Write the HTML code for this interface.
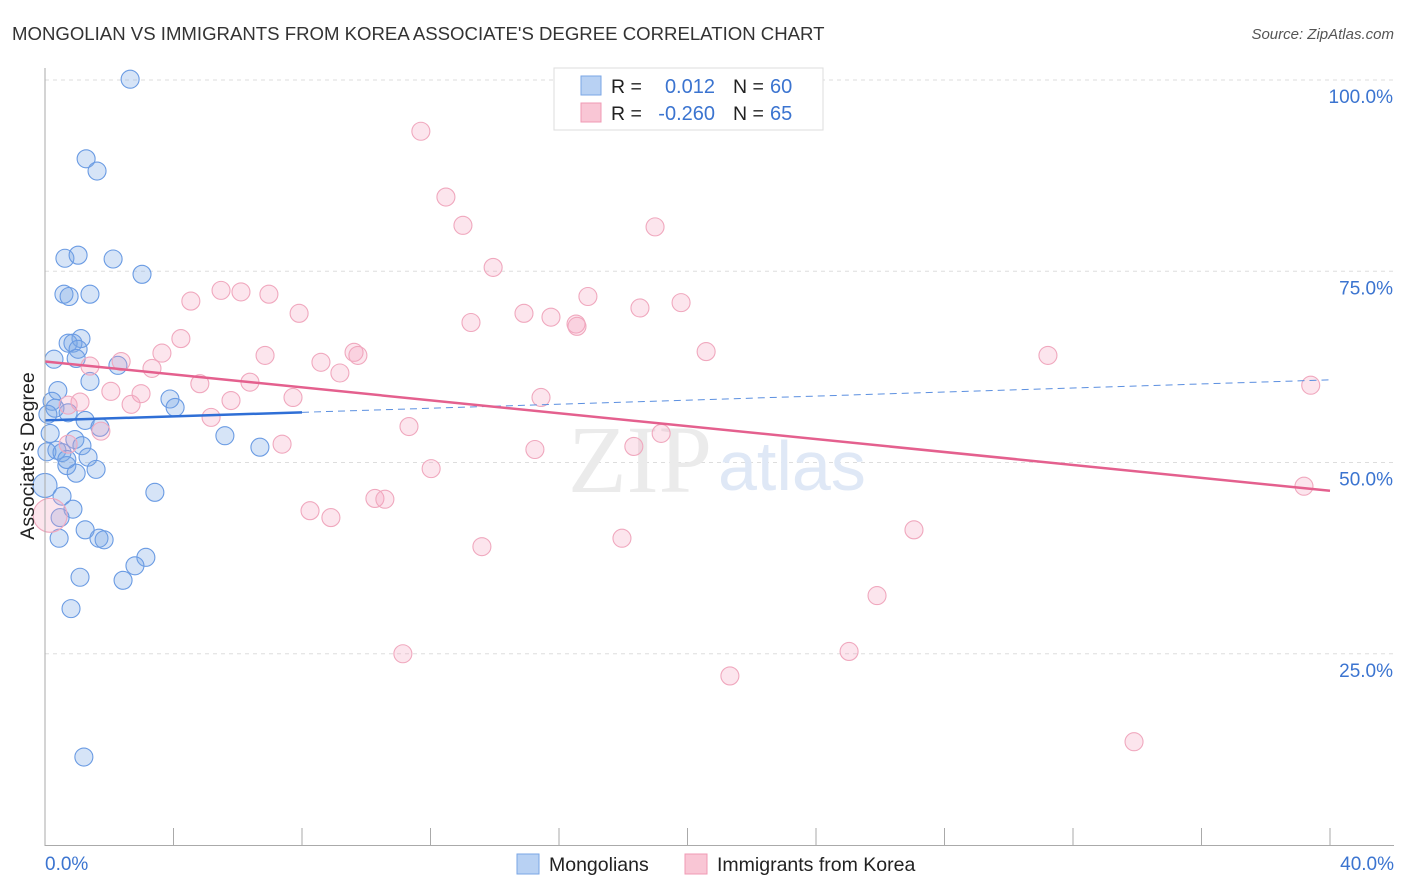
<!DOCTYPE html>
<html><head><meta charset="utf-8"><style>
body{margin:0;background:#fff;font-family:"Liberation Sans",sans-serif;}
svg{display:block}
</style></head><body>
<svg id="chart" width="1406" height="892">
<text x="12" y="40" font-size="18.6" fill="#333">MONGOLIAN VS IMMIGRANTS FROM KOREA ASSOCIATE'S DEGREE CORRELATION CHART</text>
<text x="1394" y="39" font-size="15" fill="#555" font-style="italic" text-anchor="end">Source: ZipAtlas.com</text>
<g id="grid"></g>
<text x="712" y="492" font-size="96" fill="#ebebeb" text-anchor="end" font-family="Liberation Serif,serif">ZIP</text>
<text x="718" y="490" font-size="70" fill="#dfe8f6">atlas</text>
<g id="pts"></g>
<g id="lines"></g>
<line x1="45" y1="68" x2="45" y2="846" stroke="#aaa"/>
<line x1="45" y1="845.5" x2="1394" y2="845.5" stroke="#aaa"/>
<g id="xt"></g>
<text x="45" y="870" font-size="19" fill="#3b74d0">0.0%</text>
<text x="1394" y="870" font-size="19" fill="#3b74d0" text-anchor="end">40.0%</text>
<text transform="translate(34,456) rotate(-90)" font-size="19.5" fill="#222" text-anchor="middle">Associate's Degree</text>
<g>
<rect x="554" y="68" width="269" height="62" fill="#fff" stroke="#ddd"/>
<rect x="581" y="76" width="20" height="19" fill="#b8d1f3" stroke="#7aa6e6"/>
<rect x="581" y="103" width="20" height="19" fill="#f9c6d5" stroke="#f09ab4"/>
<text x="611" y="93" font-size="19.5" fill="#222">R =</text>
<text x="715" y="93" font-size="20" fill="#3b74d0" text-anchor="end">0.012</text>
<text x="733" y="93" font-size="19.5" fill="#222">N =</text>
<text x="770" y="93" font-size="20" fill="#3b74d0">60</text>
<text x="611" y="120" font-size="19.5" fill="#222">R =</text>
<text x="715" y="120" font-size="20" fill="#3b74d0" text-anchor="end">-0.260</text>
<text x="733" y="120" font-size="19.5" fill="#222">N =</text>
<text x="770" y="120" font-size="20" fill="#3b74d0">65</text>
</g>
<g>
<rect x="517" y="854" width="22" height="20" fill="#b8d1f3" stroke="#7aa6e6"/>
<text x="549" y="871" font-size="19.5" fill="#222">Mongolians</text>
<rect x="685" y="854" width="22" height="20" fill="#f9c6d5" stroke="#f09ab4"/>
<text x="717" y="871" font-size="19.5" fill="#222">Immigrants from Korea</text>
</g>
</svg>
<script>
const yTicks=[25,50,75,100];
const yTickLabels=["25.0%","50.0%","75.0%","100.0%"];
const xTicks=[0,4,8,12,16,20,24,28,32,36,40];
const blueX=[2.65,1.28,1.62,0.62,1.03,2.12,3.02,0.59,0.75,1.40,1.12,0.72,0.87,1.03,0.28,0.97,2.27,1.40,0.40,0.22,3.89,4.05,0.31,0.72,0.09,1.25,1.71,5.60,0.16,0.93,1.15,0.37,0.06,0.53,6.69,1.34,0.68,1.59,0.97,0.0,0.53,3.42,0.87,0.47,1.25,1.68,1.84,0.44,3.14,2.80,1.09,2.43,0.81,1.21,0.68];
const blueY=[100.1,89.7,88.1,76.7,77.1,76.6,74.6,72.0,71.7,72.0,66.2,65.6,65.6,64.8,63.5,63.6,62.7,60.6,59.4,58.0,58.3,57.2,57.1,56.5,56.3,55.5,54.6,53.5,53.8,53.0,52.2,51.6,51.4,51.3,52.0,50.7,49.6,49.1,48.6,47.0,45.6,46.1,43.9,42.8,41.2,40.1,39.9,40.1,37.6,36.5,35.0,34.6,30.9,11.5,50.4];
const pinkX=[11.70,12.48,13.01,18.99,13.95,5.48,6.10,6.97,4.54,16.90,19.80,18.52,7.91,14.91,15.75,13.26,16.53,16.56,4.23,3.64,6.85,9.62,9.74,20.58,31.22,2.37,1.40,3.33,8.59,9.18,4.82,6.38,2.05,2.99,39.4,7.72,5.79,1.09,15.44,2.68,0.72,5.17,11.33,1.74,19.18,7.38,18.33,15.25,0.72,12.02,39.19,10.27,10.58,8.25,8.90,27.05,0.16,13.60,17.96,25.90,11.14,25.03,21.32,33.90];
const pinkY=[93.3,84.7,81.0,80.8,75.5,72.5,72.3,72.0,71.1,71.7,70.9,70.2,69.5,69.5,69.0,68.3,68.1,67.8,66.2,64.3,64.0,64.4,64.0,64.5,64.0,63.2,62.6,62.3,63.1,61.7,60.3,60.5,59.3,59.0,60.1,58.5,58.1,57.9,58.5,57.6,57.5,55.9,54.7,54.1,53.8,52.4,52.1,51.7,52.4,49.2,46.9,45.3,45.2,43.7,42.8,41.2,43.1,39.0,40.1,32.6,25.0,25.3,22.1,13.5];
const blueTrend=[55.5,60.8];
const pinkTrend=[63.2,46.3];
const NS='http://www.w3.org/2000/svg';
const X=v=>45+v/40*1285;
const Y=v=>845-v*7.65;
function mk(tag,attrs,parent){const e=document.createElementNS(NS,tag);for(const k in attrs)e.setAttribute(k,attrs[k]);parent.appendChild(e);return e;}
const grid=document.getElementById('grid');
yTicks.forEach((t,i)=>{
 const l=mk('line',{x1:45,x2:1394,y1:Y(t),y2:Y(t),stroke:'#ddd','stroke-dasharray':'4,4'},grid);
 
 
 const tx=mk('text',{x:1393,y:Y(t)+23,'font-size':19,fill:'#3b74d0','text-anchor':'end'},grid);
 tx.textContent=yTickLabels[i];
 
 
});
const xt=document.getElementById('xt');
xTicks.forEach(t=>{
 const l=mk('line',{x1:X(t),x2:X(t),y1:828,y2:845,stroke:'#aaa'},xt);
 
 
});
const pts=document.getElementById('pts');
blueX.forEach((x,i)=>{
 const c=mk('circle',{cx:X(x),cy:Y(blueY[i]),r:(x===0?12:9),fill:'rgba(120,165,230,0.3)',stroke:'#6a9be3','stroke-width':1.1},pts);
 
 
});
pinkX.forEach((x,i)=>{
 const c=mk('circle',{cx:X(x),cy:Y(pinkY[i]),r:(x<0.2?17:9),fill:'rgba(245,160,190,0.28)',stroke:'#f0a8be','stroke-width':1.1},pts);
 
 
});
const lines=document.getElementById('lines');
const bAt=x=>blueTrend[0]+(blueTrend[1]-blueTrend[0])*x/40;
let l1=mk('line',{x1:X(0),y1:Y(bAt(0)),x2:X(8),y2:Y(bAt(8)),stroke:'#2f6fd6','stroke-width':2.5},lines);


let l2=mk('line',{x1:X(8),y1:Y(bAt(8)),x2:X(40),y2:Y(bAt(40)),stroke:'#5b8fe0','stroke-width':1,'stroke-dasharray':'7,5'},lines);


let l3=mk('line',{x1:X(0),y1:Y(pinkTrend[0]),x2:X(40),y2:Y(pinkTrend[1]),stroke:'#e4608e','stroke-width':2.5},lines);


</script>
</body></html>
